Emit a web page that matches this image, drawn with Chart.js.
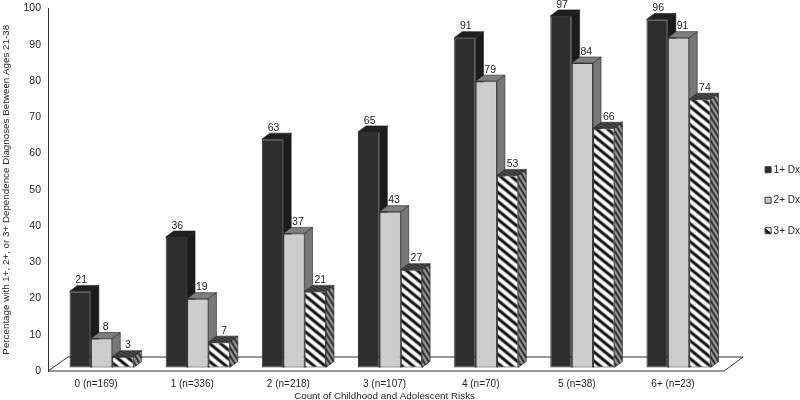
<!DOCTYPE html>
<html>
<head>
<meta charset="utf-8">
<style>
  html, body { margin: 0; padding: 0; background: #fff; }
  #wrap { width: 800px; height: 400px; }
</style>
<script src="https://cdn.jsdelivr.net/npm/chart.js@4"></script>
</head>
<body>
<div id="wrap"><canvas id="risks" width="800" height="400"></canvas></div>
<script>
/* data */
const categories = ['0 (n=169)', '1 (n=336)', '2 (n=218)', '3 (n=107)', '4 (n=70)', '5 (n=38)', '6+ (n=23)'];
const seriesNames = ['1+ Dx', '2+ Dx', '3+ Dx'];
const oneOrMore = [21, 36, 63, 65, 91, 97, 96];
const twoOrMore = [8, 19, 37, 43, 79, 84, 91];
const threeOrMore = [3, 7, 21, 27, 53, 66, 74];

const FONT = "'Liberation Sans', Arial, sans-serif";
const INK = '#262626';

/* ─── hatch fills ─── */
function stripes(w, h, bg, fg, lineW) {
  const c = document.createElement('canvas');
  c.width = w; c.height = h;
  const g = c.getContext('2d');
  g.fillStyle = bg;
  g.fillRect(0, 0, w, h);
  g.strokeStyle = fg;
  g.lineWidth = lineW;
  for (let k = -1; k <= 1; k++) {
    g.beginPath();
    g.moveTo(k * w - w, -h);
    g.lineTo(k * w + 2 * w, 2 * h);
    g.stroke();
  }
  return g.createPattern(c, 'repeat');
}
const frontHatch = stripes(11, 9, '#ffffff', '#111111', 3);
const sideHatch = stripes(5, 8, '#9a9a9a', '#151515', 1.7);
const topHatch = stripes(6, 3, '#666666', '#1c1c1c', 1.3);

const faces = [
  { side: '#1b1b1b', top: '#1f1f1f', labelNudge: 1 },
  { side: '#787878', top: '#7e7e7e', labelNudge: 4 },
  { side: sideHatch, top: topHatch, labelNudge: 5 }
];

const DEPTH_X = 8, DEPTH_Y = 6;
const SHIFT_X = 5.5, SHIFT_Y = -3.5;

function poly(ctx, pts, fill) {
  ctx.beginPath();
  pts.forEach((p, i) => i ? ctx.lineTo(p[0], p[1]) : ctx.moveTo(p[0], p[1]));
  ctx.closePath();
  ctx.fillStyle = fill;
  ctx.fill();
  ctx.lineWidth = 0.6;
  ctx.strokeStyle = '#222';
  ctx.stroke();
}

/* floor and box faces, the library has no 3D bars */
const bars3d = {
  id: 'bars3d',
  beforeDatasetsDraw(chart) {
    const ctx = chart.ctx;
    const { left, right } = chart.chartArea;
    const base = chart.scales.y.getPixelForValue(0);

    ctx.save();
    ctx.beginPath();
    ctx.moveTo(left, base);
    ctx.lineTo(left + 20, base - 14);
    ctx.lineTo(right + 22, base - 14);
    ctx.lineTo(right + 3, base);
    ctx.closePath();
    ctx.fillStyle = '#fff';
    ctx.fill();
    ctx.lineWidth = 1;
    ctx.strokeStyle = '#333';
    ctx.stroke();
    ctx.restore();

    ctx.save();
    ctx.translate(SHIFT_X, SHIFT_Y);
    chart.data.datasets.forEach((ds, d) => {
      const meta = chart.getDatasetMeta(d);
      meta.data.forEach((bar) => {
        const l = bar.x - bar.width / 2, r = bar.x + bar.width / 2;
        poly(ctx, [[r, bar.y], [r + DEPTH_X, bar.y - DEPTH_Y], [r + DEPTH_X, bar.base - DEPTH_Y], [r, bar.base]], faces[d].side);
        poly(ctx, [[l, bar.y], [l + DEPTH_X, bar.y - DEPTH_Y], [r + DEPTH_X, bar.y - DEPTH_Y], [r, bar.y]], faces[d].top);
        bar.draw(ctx);
      });
    });
    // value labels go last so no box covers them
    ctx.font = '10.5px ' + FONT;
    ctx.fillStyle = INK;
    ctx.textAlign = 'center';
    ctx.textBaseline = 'bottom';
    chart.data.datasets.forEach((ds, d) => {
      chart.getDatasetMeta(d).data.forEach((bar, i) => {
        ctx.fillText(ds.data[i], bar.x + faces[d].labelNudge, bar.y - 6);
      });
    });
    ctx.restore();
    return false;
  }
};

const fills = ['#2e2e2e', '#cccccc', frontHatch];
const seriesValues = [oneOrMore, twoOrMore, threeOrMore];

new Chart(document.getElementById('risks'), {
  type: 'bar',
  data: {
    labels: categories,
    datasets: seriesNames.map((name, i) => ({
      label: name,
      data: seriesValues[i],
      backgroundColor: fills[i],
      borderColor: '#333',
      borderWidth: 1,
      borderSkipped: false,
      barPercentage: 1,
      categoryPercentage: 0.667
    }))
  },
  options: {
    responsive: false,
    animation: false,
    layout: { padding: { top: 8.5, right: -10, left: 0, bottom: 8 } },
    plugins: {
      tooltip: { enabled: false },
      legend: {
        position: 'right',
        labels: {
          usePointStyle: true,
          pointStyle: 'rect',
          boxWidth: 1,
          boxHeight: 6,
          padding: 20.5,
          color: INK,
          font: { family: FONT, size: 10 }
        }
      }
    },
    scales: {
      x: {
        grid: { display: false, drawTicks: false },
        border: { display: false },
        ticks: { color: INK, font: { family: FONT, size: 10 }, padding: 7, maxRotation: 0 },
        title: { display: true, text: 'Count of Childhood and Adolescent Risks', color: INK, font: { family: FONT, size: 9.8 }, padding: { top: 0, bottom: -10 } },
        afterFit(s) { s.height = 21; }
      },
      y: {
        min: 0,
        max: 100,
        grid: { display: false, drawTicks: false },
        border: { display: true, color: '#333', width: 1 },
        ticks: { stepSize: 10, color: INK, font: { family: FONT, size: 10.5 }, padding: 7 },
        title: { display: true, text: 'Percentage with 1+, 2+, or 3+ Dependence Diagnoses Between Ages 21-38', color: INK, font: { family: FONT, size: 9.8 }, padding: 0 },
        afterFit(s) { s.width = 48; s.paddingTop = 0; s.paddingBottom = 0; }
      },
      // empty axis, only holds the gap between floor and legend
      gap: {
        position: 'right',
        grid: { display: false, drawTicks: false },
        border: { display: false },
        ticks: { display: false },
        afterFit(s) { s.width = 26; }
      }
    }
  },
  plugins: [bars3d]
});
</script>
</body>
</html>
